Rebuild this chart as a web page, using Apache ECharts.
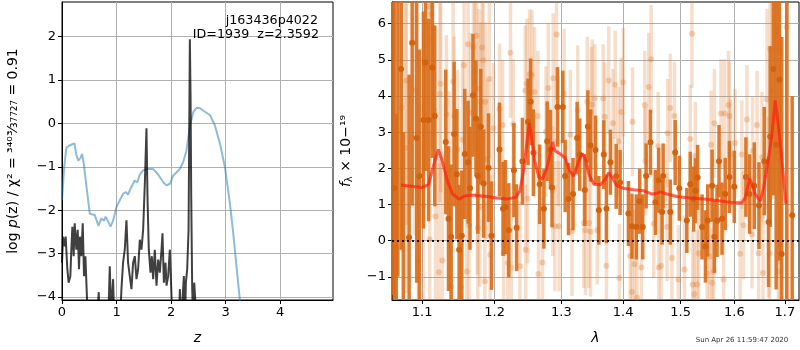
<!DOCTYPE html>
<html><head><meta charset="utf-8">
<script src="https://cdn.jsdelivr.net/npm/echarts@6/dist/echarts.min.js"></script>
<style>html,body{margin:0;padding:0;background:#fff}#c{width:800px;height:350px}</style>
</head><body><div id="c"></div>
<script>
// ---------- tick labels ----------
const zTicks = [0, 1, 2, 3, 4];
const logpTicks = [-4, -3, -2, -1, 0, 1, 2];
const lamTicks = [1.1, 1.2, 1.3, 1.4, 1.5, 1.6, 1.7];
const fluxTicks = [-1, 0, 1, 2, 3, 4, 5, 6];
const titleLines = ['j163436p4022', 'ID=1939   z=2.3592'];
const stamp = 'Sun Apr 26 11:59:47 2020';

// ---------- p(z) panel: [z, log p] ----------
const pzBlue = [[0,-1.77],[0.04,-1.02],[0.08,-0.56],[0.12,-0.52],[0.15,-0.56],[0.19,-0.48],[0.23,-0.46],[0.26,-0.71],[0.30,-0.86],[0.34,-0.79],[0.37,-0.70],[0.40,-0.94],[0.45,-1.47],[0.51,-2.08],[0.60,-2.11],[0.63,-2.08],[0.67,-2.36],[0.72,-2.19],[0.77,-2.24],[0.80,-2.15],[0.85,-2.27],[0.89,-2.38],[0.94,-2.23],[1.00,-1.92],[1.06,-1.77],[1.12,-1.62],[1.17,-1.58],[1.21,-1.64],[1.27,-1.47],[1.33,-1.32],[1.38,-1.36],[1.43,-1.17],[1.49,-1.08],[1.58,-1.05],[1.67,-1.05],[1.76,-1.17],[1.86,-1.36],[1.92,-1.43],[1.98,-1.39],[2.04,-1.20],[2.10,-1.13],[2.16,-1.05],[2.22,-0.90],[2.28,-0.64],[2.35,-0.03],[2.41,0.27],[2.47,0.36],[2.53,0.35],[2.62,0.27],[2.71,0.20],[2.80,-0.03],[2.90,-0.48],[2.99,-1.02],[3.08,-1.85],[3.14,-2.53],[3.20,-3.29],[3.26,-4.05],[3.32,-4.9]];
const pzBlack = [[0,-3.21],[0.018,-2.61],[0.049,-2.83],[0.067,-2.61],[0.098,-3.36],[0.122,-3.67],[0.153,-3.52],[0.171,-2.91],[0.19,-2.38],[0.214,-3.06],[0.233,-2.30],[0.263,-2.91],[0.288,-2.45],[0.312,-3.36],[0.331,-2.61],[0.355,-3.06],[0.38,-2.30],[0.404,-3.52],[0.429,-3.06],[0.459,-4.05],[0.496,-4.7],[0.63,-4.7],[0.674,-3.89],[0.69,-4.7],[0.845,-4.7],[0.876,-3.29],[0.9,-4.4],[0.937,-3.59],[0.96,-4.7],[1.06,-4.7],[1.09,-3.82],[1.12,-3.21],[1.151,-2.91],[1.182,-2.23],[1.212,-3.21],[1.243,-3.52],[1.274,-3.82],[1.304,-3.21],[1.335,-3.06],[1.366,-3.59],[1.396,-3.36],[1.427,-2.68],[1.457,-2.91],[1.488,-2.45],[1.519,-1.39],[1.549,-0.11],[1.568,-1.70],[1.592,-2.91],[1.623,-3.44],[1.647,-3.06],[1.672,-3.59],[1.702,-2.91],[1.733,-3.74],[1.764,-3.14],[1.794,-3.44],[1.825,-2.91],[1.843,-2.53],[1.868,-3.67],[1.898,-3.21],[1.917,-3.74],[1.947,-3.52],[1.978,-2.91],[2.009,-4.01],[2.04,-4.7],[2.14,-4.7],[2.162,-3.82],[2.18,-4.7],[2.21,-4.7],[2.235,-3.52],[2.253,-4.7],[2.272,-3.67],[2.296,-3.36],[2.321,-2.45],[2.345,1.94],[2.358,0.58],[2.37,-1.70],[2.388,-3.82],[2.41,-4.7],[2.425,-3.67],[2.443,-4.05],[2.47,-4.7],[3.0,-5.5],[5.0,-6.5]];

// ---------- spectrum panel: [lambda, flux, error] ----------
const specLight = [[1.0736,3.68,4],[1.0786,2.56,4],[1.0795,4.43,4],[1.0906,4.15,4],[1.095,-0.57,4],[1.1018,0.97,3],[1.1087,6.47,3],[1.1101,0.04,3],[1.112,6.27,3],[1.1134,5.58,3],[1.1147,5.88,3],[1.1179,0.67,3],[1.1224,-0.87,3],[1.1238,4.06,3],[1.1248,4.34,3],[1.1271,-0.55,3],[1.1326,3.49,2.2],[1.1362,1.93,2.2],[1.139,-1.27,2.2],[1.1417,4.4,2.2],[1.1431,3.45,2.2],[1.1478,2.52,2.2],[1.1523,-1.28,2.2],[1.1547,2.79,2.2],[1.1569,4.85,2.2],[1.1606,-0.85,2.2],[1.1624,5.43,2.2],[1.1638,0.43,2.2],[1.1661,3.54,2.2],[1.1698,5.35,2.2],[1.172,4.67,2.2],[1.1744,5.67,2.2],[1.1755,1.26,2.2],[1.1761,0.36,2.2],[1.1775,4.2,2.2],[1.1789,0.93,2.2],[1.1799,3.84,2.2],[1.1822,5.34,2.2],[1.1836,4.99,2.2],[1.1861,-1.12,2.2],[1.1868,3.84,2.2],[1.1891,2.25,2.2],[1.1923,4.47,2.2],[1.1936,-0.39,2.2],
[1.1982,3.11,1.8],[1.2071,3.65,1.8],[1.2116,3.2,1.8],[1.2131,-0.35,1.8],[1.2191,-0.62,1.8],[1.2231,5.2,1.8],[1.2242,-0.75,1.8],[1.2272,3.22,1.8],[1.2371,-0.71,1.8],[1.2449,4.15,1.8],[1.2456,-0.25,1.8],[1.2474,4.34,1.8],[1.2484,1.17,1.8],[1.2514,4.6,1.8],[1.255,4.58,1.8],[1.2589,4.11,1.8],[1.264,3.45,1.8],[1.2649,-0.92,1.8],[1.2709,-0.6,1.8],[1.2763,3.02,1.8],[1.2799,4.22,1.8],[1.2866,1.38,1.8],[1.2874,4.49,1.8],[1.29,0.4,1.8],[1.2925,5.7,1.8],[1.295,2.75,1.8],[1.2965,0.4,1.8],[1.3044,4.06,1.8],[1.3141,2.93,1.8],[1.3168,0.27,1.8],[1.3259,3.6,1.8],[1.3356,0.49,1.8],[1.3383,0.29,1.8],[1.3411,3.84,1.8],[1.3437,0.49,1.8],[1.3464,0.25,1.8],[1.3476,3.56,1.8],[1.3492,3.76,1.8],
[1.3534,3.93,1.5],[1.3573,0.29,1.5],[1.367,3.93,1.5],[1.3696,3.43,1.5],[1.3723,-0.69,1.5],[1.3761,4.43,1.5],[1.3831,3.25,1.5],[1.3869,4.31,1.5],[1.3922,2.75,1.5],[1.3938,-1.03,1.5],[1.3966,3.56,1.5],[1.4003,4.38,1.5],[1.412,-0.42,1.5],[1.415,-1.42,1.5],[1.416,3.29,1.5],[1.4195,-0.65,1.5],[1.4236,-1.57,1.5],[1.4311,-0.74,1.5],[1.4369,3.75,1.5],[1.4381,2.2,1.5],[1.4438,4.25,1.5],[1.448,5.02,1.5],[1.4525,0.47,1.5],[1.4602,2.61,1.5],[1.4612,-0.74,1.5],[1.4654,-0.69,1.5],[1.4758,0.38,1.5],[1.4769,2.97,1.5],[1.4816,3.67,1.5],[1.4845,-0.48,1.5],[1.489,3.45,1.5],[1.496,-1.07,1.5],[1.5069,-0.8,1.5],[1.5175,2.81,1.5],[1.5206,5.72,1.5],[1.5221,-1.21,1.5],
[1.5249,-1.48,1.5],[1.5268,2.34,1.5],[1.5299,-1.21,1.5],[1.5329,-0.35,1.5],[1.5485,-0.91,1.5],[1.5533,-0.44,1.5],[1.5559,2.65,1.5],[1.5578,-1.16,1.5],[1.5608,-0.85,1.5],[1.5621,3.25,1.5],[1.5745,3.52,1.5],[1.5794,-1.07,1.5],[1.5812,3.52,1.5],[1.5887,3.75,1.5],[1.5905,3.45,1.5],[1.5931,2.4,1.5],[1.6012,2.7,1.5],[1.6111,-0.36,1.5],[1.6144,2.38,1.5],[1.6176,0.43,1.5],[1.6243,3.35,1.5],[1.6342,0.18,1.5],[1.6354,2.49,1.5],[1.6441,3.2,1.5],[1.6472,-0.35,1.5],[1.6539,2.31,1.8],[1.6559,-0.89,1.8],[1.6638,3.91,2.5],[1.667,0.93,2.5],[1.669,-0.36,2.5],[1.6703,5.31,3],[1.6737,4.15,3],[1.6822,5.88,3.5],[1.6847,5.7,3.5],[1.6867,-0.85,4],[1.6887,5.29,4],[1.69,-0.57,4],[1.7035,5.91,4]];

const specDark = [[1.0622,7.5,9],[1.0638,1.45,6],[1.0665,-2.5,6],[1.0685,8.0,9],[1.0728,4.75,5],[1.0755,-3.0,6],[1.083,0.09,4.5],[1.087,5.47,4.5],[1.0929,2.84,4],[1.0964,1.79,3.5],[1.1018,3.34,3],[1.1045,4.93,3],[1.1087,3.34,2.8],[1.1134,4.79,2.5],[1.1169,3.45,2.5],[1.1317,2.73,2],[1.1354,0.61,2],[1.139,0.11,2],[1.1431,2.95,2],[1.1468,1.84,1.8],[1.15,-0.25,1.8],[1.1537,0.14,1.8],[1.1578,2.4,1.8],[1.1624,2.17,1.7],[1.1651,1.45,1.7],[1.1693,4.02,1.7],[1.1734,3.38,1.6],[1.1761,1.79,1.6],[1.1803,3.15,1.6],[1.1844,1.58,1.5],[1.1913,2.02,1.5],[1.1955,0.14,1.5],[1.2071,2.52,1.3],[1.2122,0.88,1.3],[1.2156,0.93,1.3],[1.2206,0.29,1.3],[1.2281,1.95,1.3],[1.2321,0.36,1.2],[1.2407,2.2,1.2],[1.2491,3.29,1.2],[1.2531,3.84,1.2],[1.2572,2.43,1.2],[1.2666,1.56,1.1],[1.2731,0.88,1.1],[1.2781,2.75,1.1],[1.2831,2.52,1.1],[1.2856,1.47,1.1],[1.294,3.7,1.1],[1.3023,3.7,1.0],[1.306,1.79,1.0],[1.3113,1.15,1.0],[1.3184,1.29,1.0],[1.3249,2.84,1.0],[1.3291,2.38,1.0],[1.3372,1.4,1.0],[1.3421,3.16,1.0],[1.3464,2.63,1.0],[1.3545,2.51,0.95],[1.3599,0.84,0.95],[1.368,2.38,0.95],[1.3723,0.88,0.95],[1.3788,2.17,0.9],[1.3885,1.78,0.9],[1.395,1.61,0.9],[1.409,0.75,0.9],[1.415,0.4,0.9],[1.4224,0.38,0.9],[1.4282,1.09,0.9],[1.4334,0.38,0.9],[1.4393,1.79,0.9],[1.4468,2.72,0.9],[1.4555,1.06,0.9],[1.4612,1.67,0.9],[1.4671,0.79,0.9],[1.4689,1.79,0.9],[1.4816,0.79,0.9],[1.4903,2.44,0.9],[1.4977,1.45,0.9],[1.5113,0.56,0.9],[1.5175,1.56,0.9],[1.5236,1.15,0.9],[1.5268,1.38,0.9],[1.531,1.75,0.9],[1.5392,0.38,0.9],[1.5454,-0.16,1.0],[1.5496,0.56,1.0],[1.5578,1.52,1.0],[1.5621,0.11,1.0],[1.5671,0.55,1.0],[1.5708,2.2,1.0],[1.5764,0.61,1.0],[1.5825,1.29,1.0],[1.5905,1.76,1.0],[1.5998,1.49,1.0],[1.6223,1.76,1.1],[1.6294,1.29,1.1],[1.6387,1.52,1.2],[1.648,0.97,1.2],[1.6584,2.2,1.5],[1.667,0.52,1.8],[1.6703,2.88,2.5],[1.6768,4.75,3.5],[1.6822,2.65,4],[1.6887,4.45,5],[1.6935,-0.37,6],[1.7041,7.0,9],[1.7149,0.7,3.3]];

const specModel = [[1.0728,1.54],[1.0883,1.5],[1.0996,1.47],[1.1087,1.56],[1.1156,2.11],[1.1216,2.52],[1.1271,2.2],[1.134,1.65],[1.1409,1.29],[1.15,1.15],[1.1569,1.23],[1.1661,1.26],[1.1753,1.25],[1.1891,1.22],[1.2032,1.18],[1.2182,1.15],[1.2306,1.2],[1.2371,1.38],[1.2431,2.02],[1.2482,2.84],[1.2512,3.25],[1.2546,2.84],[1.2591,2.2],[1.2656,1.75],[1.2707,1.7],[1.2771,1.97],[1.2831,2.43],[1.2866,2.73],[1.29,2.49],[1.2981,2.4],[1.306,2.29],[1.3129,1.93],[1.3194,1.79],[1.3275,2.2],[1.333,2.41],[1.3383,2.25],[1.3437,1.84],[1.3518,1.56],[1.3626,1.55],[1.3707,1.7],[1.376,1.88],[1.3815,1.75],[1.3896,1.52],[1.4003,1.45],[1.4177,1.41],[1.4351,1.38],[1.4497,1.29],[1.4584,1.31],[1.4642,1.35],[1.4758,1.29],[1.4932,1.22],[1.5175,1.18],[1.5422,1.15],[1.5671,1.11],[1.5918,1.06],[1.6144,1.04],[1.621,1.2],[1.6294,1.72],[1.6342,1.56],[1.6407,1.29],[1.6506,1.09],[1.6571,1.47],[1.667,2.29],[1.6737,2.93],[1.6802,3.88],[1.6867,3.2],[1.6935,2.29],[1.702,1.02]];

const FONT = 'DejaVu Sans';
const minus = v => String(v).replace('-', '\u2212');

function errRender(color, width, opacity) {
  return function (params, api) {
    const x = api.value(0), y = api.value(1), e = api.value(2);
    const p1 = api.coord([x, y - e]);
    const p2 = api.coord([x, y + e]);
    const cs = params.coordSys;
    if (p1[0] < cs.x || p1[0] > cs.x + cs.width) return null;
    const top = Math.max(cs.y, Math.min(p1[1], p2[1]));
    const bot = Math.min(cs.y + cs.height, Math.max(p1[1], p2[1]));
    if (bot <= top) return null;
    return { type: 'line', shape: { x1: p1[0], y1: top, x2: p1[0], y2: bot },
      style: { stroke: color, lineWidth: width, opacity: opacity } };
  };
}

function axisCommon(ticks, fmt) {
  return {
    axisLine: { show: true, onZero: false, lineStyle: { color: '#000', width: 1 } },
    axisTick: { show: true, customValues: ticks, length: 4, lineStyle: { color: '#000', width: 1 } },
    axisLabel: { customValues: ticks, color: '#000', fontSize: 13, fontFamily: FONT, margin: 6, formatter: fmt },
    splitLine: { show: true, lineStyle: { color: '#b0b0b0', width: 1 } }
  };
}

const chart = echarts.init(document.getElementById('c'), null, { renderer: 'canvas' });
chart.setOption({
  animation: false,
  backgroundColor: '#fff',
  grid: [
    { left: 62, top: 2, width: 271, height: 302, show: true, borderColor: '#000', borderWidth: 1, backgroundColor: 'transparent' },
    { left: 392, top: 2, width: 407, height: 302, show: true, borderColor: '#000', borderWidth: 1, backgroundColor: 'transparent' }
  ],
  xAxis: [
    Object.assign({ type: 'value', gridIndex: 0, min: 0, max: 4.97,
      name: 'z', nameLocation: 'middle', nameGap: 31,
      nameTextStyle: { fontFamily: FONT, fontSize: 14, fontStyle: 'italic', color: '#000' } },
      axisCommon(zTicks, v => minus(v))),
    Object.assign({ type: 'log', logBase: 10, gridIndex: 1, min: 1.061, max: 1.729,
      name: '\u03bb', nameLocation: 'middle', nameGap: 31,
      nameTextStyle: { fontFamily: FONT, fontSize: 14, fontStyle: 'italic', color: '#000' } },
      axisCommon(lamTicks, v => Number(v).toFixed(1)))
  ],
  yAxis: [
    Object.assign({ type: 'value', gridIndex: 0, min: -4.07, max: 2.8,
      name: '{a|log }{i|p}{a|(z) / \u03c7\u00b2 = }{s|\u00b3\u2074\u2070\u00b3\u2044\u2083\u2087\u2087\u2082\u2087}{a| = 0.91}',
      nameLocation: 'middle', nameGap: 42,
      nameTextStyle: { fontFamily: FONT, fontSize: 14, color: '#000',
        rich: { a: { fontFamily: FONT, fontSize: 14, color: '#000' },
                i: { fontFamily: FONT, fontSize: 14, fontStyle: 'italic', color: '#000' },
                s: { fontFamily: FONT, fontSize: 14, color: '#000' } } } },
      axisCommon(logpTicks, v => minus(v))),
    Object.assign({ type: 'value', gridIndex: 1, min: -1.64, max: 6.6,
      name: '{i|f}{s|\u03bb}{a| \u00d7 10}{p|\u2212\u00b9\u2079}',
      nameLocation: 'middle', nameGap: 38,
      nameTextStyle: { fontFamily: FONT, fontSize: 14, color: '#000',
        rich: { a: { fontFamily: FONT, fontSize: 14, color: '#000' },
                i: { fontFamily: FONT, fontSize: 14, fontStyle: 'italic', color: '#000' },
                s: { fontFamily: FONT, fontSize: 10, color: '#000', padding: [6, 0, 0, 0] },
                p: { fontFamily: FONT, fontSize: 14, color: '#000' } } } },
      axisCommon(fluxTicks, v => minus(v)))
  ],
  series: [
    { type: 'line', xAxisIndex: 0, yAxisIndex: 0, data: pzBlue, showSymbol: false, clip: true,
      lineStyle: { color: '#1f77b4', width: 2, opacity: 0.5 }, z: 3 },
    { type: 'line', xAxisIndex: 0, yAxisIndex: 0, data: pzBlack, showSymbol: false, clip: true,
      lineStyle: { color: '#000', width: 2, opacity: 0.75 }, z: 4 },
    { type: 'custom', xAxisIndex: 1, yAxisIndex: 1, data: specLight, renderItem: errRender('#e07b2e', 3.5, 0.25),
      encode: { x: 0, y: 1 }, z: 2 },
    { type: 'scatter', xAxisIndex: 1, yAxisIndex: 1, data: specLight.map(d => [d[0], d[1]]), symbolSize: 6,
      itemStyle: { color: '#e07b2e', opacity: 0.32 }, z: 2 },
    { type: 'custom', xAxisIndex: 1, yAxisIndex: 1, data: specDark, renderItem: errRender('#d96b17', 3.5, 0.9),
      encode: { x: 0, y: 1 }, z: 3 },
    { type: 'scatter', xAxisIndex: 1, yAxisIndex: 1, data: specDark.map(d => [d[0], d[1]]), symbolSize: 6,
      itemStyle: { color: '#d2620e', opacity: 1 }, z: 4 },
    { type: 'line', xAxisIndex: 1, yAxisIndex: 1, data: specModel, showSymbol: false, clip: true,
      lineStyle: { color: '#ff2010', width: 3, opacity: 0.7 }, z: 5,
      markLine: { silent: true, symbol: ['none', 'none'], label: { show: false },
        lineStyle: { color: '#000', width: 2, type: [2, 3], opacity: 0.9 },
        data: [{ yAxis: 0 }] } }
  ],
  graphic: [
    { type: 'text', x: 318, y: 21, style: { text: titleLines[0], font: '12.7px "DejaVu Sans"', fill: '#000', align: 'right', verticalAlign: 'middle' }, z: 10 },
    { type: 'text', x: 319, y: 35, style: { text: titleLines[1].replace('   ', '  '), font: '12.7px "DejaVu Sans"', fill: '#000', align: 'right', verticalAlign: 'middle' }, z: 10 },
    { type: 'text', x: 742, y: 340, style: { text: stamp, font: '7px "DejaVu Sans"', fill: '#333', align: 'center', verticalAlign: 'middle' }, z: 10 }
  ]
});
</script></body></html>
